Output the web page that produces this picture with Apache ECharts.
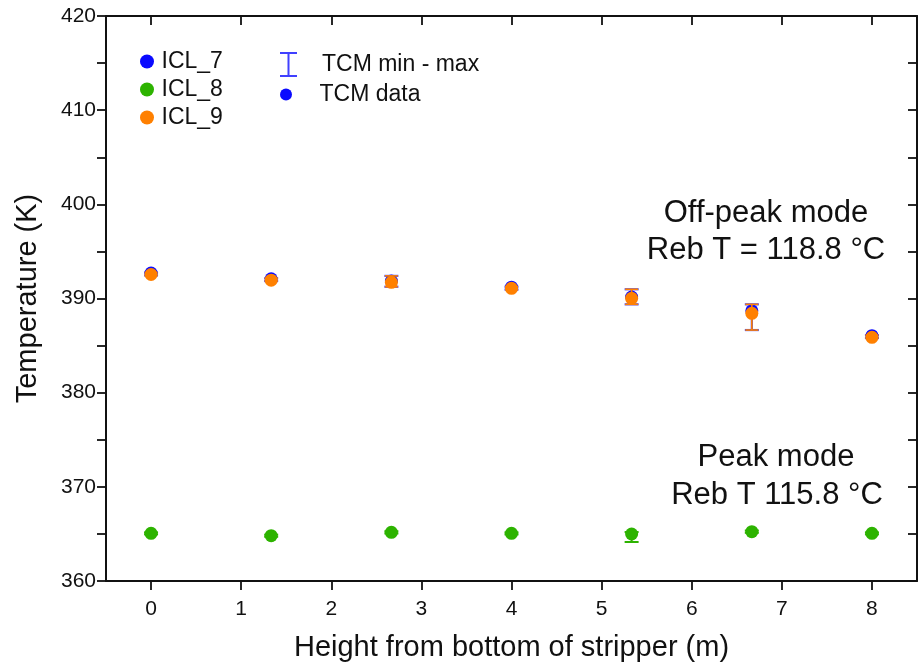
<!DOCTYPE html>
<html>
<head>
<meta charset="utf-8">
<script src="https://cdn.jsdelivr.net/npm/echarts@6/dist/echarts.min.js"></script>
<style>
  html, body { margin: 0; padding: 0; background: #ffffff; }
  #chart { width: 922px; height: 668px; }
</style>
</head>
<body>
<div id="chart"></div>
<script>
// Measurement heights along the stripper column (m)
const heights = [0, 1.333, 2.667, 4, 5.333, 6.667, 8];
const xTickValues = [0, 1, 2, 3, 4, 5, 6, 7, 8];

// Off-peak mode (reboiler T = 118.8 °C)
const icl7 = [392.7, 392.1, 391.85, 391.2, 390.15, 388.7, 386.05];
const icl9 = [392.55, 391.95, 391.72, 391.08, 390.02, 388.43, 385.88];
const tcmData = [392.6, 392.0, 391.8, 391.1, 390.1, 388.55, 385.95];
const tcmMin = [392.45, 391.85, 391.25, 390.95, 389.38, 386.65, 385.8];
const tcmMax = [392.75, 392.15, 392.4, 391.25, 390.98, 389.38, 386.1];

// Peak mode (reboiler T = 115.8 °C)
const icl8 = [365.06, 364.81, 365.17, 365.06, 364.99, 365.24, 365.06];
const icl8Min = [364.95, 364.7, 365.05, 364.95, 364.14, 365.12, 364.95];
const icl8Max = [365.16, 364.92, 365.28, 365.16, 365.2, 365.36, 365.16];

const FONT = "'Liberation Sans', Arial, Helvetica, sans-serif";
const INK = '#111111';
const BLUE = '#0a0aff';
const BAR_BLUE = '#4040ff';
const GREEN = '#2db300';
const ORANGE = '#ff8000';

const pairs = (ys) => heights.map((h, i) => [h, ys[i]]);
const ranges = (lo, hi) => heights.map((h, i) => [h, lo[i], hi[i]]);

// Vertical min–max bar with caps
function errorBar(color, width, halfCap) {
  return function (params, api) {
    const x = api.value(0);
    const top = api.coord([x, api.value(2)]);
    const bot = api.coord([x, api.value(1)]);
    const style = { stroke: color, lineWidth: width, fill: null };
    return {
      type: 'group',
      children: [
        { type: 'line', shape: { x1: top[0], y1: top[1], x2: bot[0], y2: bot[1] }, style },
        { type: 'line', shape: { x1: top[0] - halfCap, y1: top[1], x2: top[0] + halfCap, y2: top[1] }, style },
        { type: 'line', shape: { x1: bot[0] - halfCap, y1: bot[1], x2: bot[0] + halfCap, y2: bot[1] }, style }
      ]
    };
  };
}

const axisLine = { show: true, onZero: false, lineStyle: { color: INK, width: 2 } };
const tickLine = { color: INK, width: 1.8 };
const NOTE_FONT = "31px 'Liberation Sans', Arial, sans-serif";

const chart = echarts.init(document.getElementById('chart'), null, { renderer: 'canvas' });

chart.setOption({
  animation: false,
  backgroundColor: '#ffffff',
  grid: { left: 106, right: 5, top: 16, bottom: 87, containLabel: false },
  xAxis: [
    {
      type: 'value', min: -0.5, max: 8.5, position: 'bottom',
      axisLine,
      axisTick: { show: true, inside: false, length: 9, customValues: xTickValues, lineStyle: tickLine },
      axisLabel: { customValues: xTickValues, fontSize: 21, color: INK, fontFamily: FONT, margin: 18 },
      splitLine: { show: false },
      name: 'Height from bottom of stripper (m)',
      nameLocation: 'middle', nameGap: 52,
      nameTextStyle: { fontSize: 29, color: INK, fontFamily: FONT }
    },
    {
      type: 'value', min: -0.5, max: 8.5, position: 'top',
      axisLine,
      axisTick: { show: true, inside: true, length: 9, customValues: xTickValues, lineStyle: tickLine },
      axisLabel: { show: false },
      splitLine: { show: false }
    }
  ],
  yAxis: [
    {
      type: 'value', min: 360, max: 420, interval: 10, position: 'left',
      axisLine,
      axisTick: { show: true, inside: false, length: 9, lineStyle: tickLine },
      minorTick: { show: true, splitNumber: 2, length: 9, lineStyle: tickLine },
      axisLabel: { fontSize: 21, color: INK, fontFamily: FONT, margin: 10 },
      splitLine: { show: false },
      name: 'Temperature (K)',
      nameLocation: 'middle', nameGap: 64,
      nameTextStyle: { fontSize: 29, color: INK, fontFamily: FONT }
    },
    {
      type: 'value', min: 360, max: 420, interval: 10, position: 'right',
      axisLine,
      axisTick: { show: true, inside: true, length: 9, lineStyle: tickLine },
      minorTick: { show: true, splitNumber: 2, length: 9, lineStyle: tickLine },
      axisLabel: { show: false },
      splitLine: { show: false }
    }
  ],
  legend: [
    {
      data: ['ICL_7', 'ICL_8', 'ICL_9'],
      orient: 'vertical', left: 135, top: 45,
      itemWidth: 19, itemHeight: 14, itemGap: 5, icon: 'circle',
      textStyle: { fontSize: 23, color: INK, fontFamily: FONT },
      selectedMode: false
    },
    {
      data: [{
        name: 'TCM min - max',
        icon: 'path://M0,0H17V2H0Z M7.5,0H9.5V25H7.5Z M0,23H17V25H0Z'
      }],
      orient: 'vertical', left: 275, top: 47,
      itemWidth: 57, itemHeight: 25,
      textStyle: { fontSize: 23, color: INK, fontFamily: FONT },
      selectedMode: false
    },
    {
      data: [{ name: 'TCM data', icon: 'circle' }],
      orient: 'vertical', left: 275, top: 78,
      itemWidth: 57, itemHeight: 12,
      textStyle: { fontSize: 23, color: INK, fontFamily: FONT },
      selectedMode: false
    }
  ],
  series: [
    {
      name: 'TCM min - max', type: 'custom', xAxisIndex: 0, yAxisIndex: 0,
      renderItem: errorBar(BAR_BLUE, 2.2, 7),
      encode: { x: 0, y: [1, 2] },
      itemStyle: { color: BAR_BLUE },
      data: ranges(tcmMin, tcmMax), z: 2
    },
    {
      name: 'ICL_7', type: 'scatter', xAxisIndex: 0, yAxisIndex: 0,
      symbol: 'circle', symbolSize: 13,
      itemStyle: { color: BLUE, opacity: 1 },
      data: pairs(icl7), z: 3
    },
    {
      name: 'TCM data', type: 'scatter', xAxisIndex: 0, yAxisIndex: 0,
      symbol: 'circle', symbolSize: 10,
      itemStyle: { color: BLUE, opacity: 1 },
      data: pairs(tcmData), z: 3
    },
    {
      name: 'ICL_8 range', type: 'custom', xAxisIndex: 0, yAxisIndex: 0,
      renderItem: errorBar(GREEN, 2, 7),
      encode: { x: 0, y: [1, 2] },
      data: ranges(icl8Min, icl8Max), z: 3
    },
    {
      name: 'ICL_8', type: 'scatter', xAxisIndex: 0, yAxisIndex: 0,
      symbol: 'circle', symbolSize: 13,
      itemStyle: { color: GREEN, opacity: 1 },
      data: pairs(icl8), z: 4
    },
    {
      name: 'ICL_9', type: 'scatter', xAxisIndex: 0, yAxisIndex: 0,
      symbol: 'circle', symbolSize: 13,
      itemStyle: { color: ORANGE, opacity: 1 },
      data: pairs(icl9), z: 4
    },
    {
      name: 'ICL_9 range', type: 'custom', xAxisIndex: 0, yAxisIndex: 0,
      renderItem: errorBar(ORANGE, 1.6, 6.5),
      encode: { x: 0, y: [1, 2] },
      data: ranges(tcmMin, tcmMax), z: 5
    }
  ],
  graphic: [
    {
      type: 'text', z: 10,
      style: { x: 766, y: 213, text: 'Off-peak mode', align: 'center', verticalAlign: 'middle', font: NOTE_FONT, fill: INK }
    },
    {
      type: 'text', z: 10,
      style: { x: 766, y: 250, text: 'Reb T = 118.8 °C', align: 'center', verticalAlign: 'middle', font: NOTE_FONT, fill: INK }
    },
    {
      type: 'text', z: 10,
      style: { x: 776, y: 457, text: 'Peak mode', align: 'center', verticalAlign: 'middle', font: NOTE_FONT, fill: INK }
    },
    {
      type: 'text', z: 10,
      style: { x: 777, y: 495, text: 'Reb T 115.8 °C', align: 'center', verticalAlign: 'middle', font: NOTE_FONT, fill: INK }
    }
  ]
});
</script>
</body>
</html>
